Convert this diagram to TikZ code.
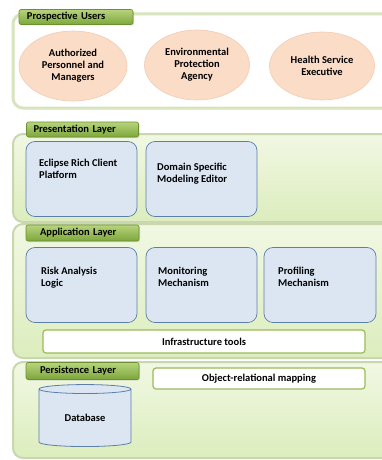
\documentclass[tikz,border=0pt]{standalone}
\usepackage{fontspec}
\setmainfont{Carlito}
\usetikzlibrary{shapes.geometric, shadows, positioning}

\definecolor{usersline}{HTML}{D7E4BD}
\definecolor{layerline}{HTML}{C9D6AE}
\definecolor{layertop}{HTML}{F1F8E3}
\definecolor{layerbot}{HTML}{DCEDBD}
\definecolor{tabtop}{HTML}{B7D47C}
\definecolor{tabbot}{HTML}{7DA63C}
\definecolor{tabline}{HTML}{6B902E}
\definecolor{peach}{HTML}{FBDCC7}
\definecolor{peachline}{HTML}{F2CCB2}
\definecolor{partfill}{HTML}{DCE6F2}
\definecolor{partline}{HTML}{5C7FA8}
\definecolor{stripline}{HTML}{9BBB59}

\begin{document}
\begin{tikzpicture}[x=1pt, y=-1pt,
    panel/.style={rectangle, rounded corners=10, draw=layerline, line width=2,
        top color=layertop, bottom color=layerbot, minimum width=387},
    tab/.style={rectangle, rounded corners=2, draw=tabline, line width=0.6,
        top color=tabtop, bottom color=tabbot, align=left, inner ysep=0pt,
        drop shadow={opacity=0.25, shadow xshift=1pt, shadow yshift=-1pt}},
    person/.style={ellipse, fill=peach, draw=peachline, line width=0.6, align=center},
    part/.style={rectangle, rounded corners=9, fill=partfill, draw=partline, line width=0.7,
        minimum height=75},
    parttext/.style={anchor=north west, align=left},
    strip/.style={rectangle, rounded corners=3, fill=white, draw=stripline, line width=1.2},
    store/.style={cylinder, shape border rotate=90, aspect=0.22, fill=partfill,
        draw=partline, line width=0.8}]
        \tikzstyle{every node}+=[inner sep=0pt, font=\fontsize{10.5}{12}\selectfont\bfseries]
        \clip (0,0) rectangle (382,460);
        \fill [white] (0,0) rectangle (382,460);

        \node [panel, fill=white, top color=white, bottom color=white, draw=usersline, line width=3,
            minimum height=94] (users) at (206.5,61) {};
        \node [tab, text width=98, inner xsep=8, minimum height=15] (userstab) at (76,17) {Prospective Users};
        \node [person, minimum width=108, minimum height=70] (staff) at (73,66) {Authorized\\Personnel and\\Managers};
        \node [person, minimum width=105, minimum height=70] (epa) at (197,65) {Environmental\\Protection\\Agency};
        \node [person, minimum width=105, minimum height=68] (hse) at (322,66) {Health Service\\Executive};

        \node [panel, minimum height=88] (pres) at (206.5,178) {};
        \node [tab, text width=98, inner xsep=7, minimum height=15] (prestab) at (82.5,129.5) {Presentation Layer};
        \node [part, minimum width=111] (rcp) at (81.5,179) {};
        \node [parttext] (rcptext) at (39,159) {Eclipse Rich Client\\Platform};
        \node [part, minimum width=111] (dsm) at (201.5,179) {};
        \node [parttext] (dsmtext) at (157,163) {Domain Specific\\Modeling Editor};

        \node [panel, minimum height=134] (app) at (206.5,291) {};
        \node [tab, text width=85, inner xsep=14, minimum height=16] (apptab) at (82.5,233) {Application Layer};
        \node [part, minimum width=111] (risk) at (81.5,285) {};
        \node [parttext] (risktext) at (41,267) {Risk Analysis\\Logic};
        \node [part, minimum width=111] (mon) at (201.5,285) {};
        \node [parttext] (montext) at (158,267) {Monitoring\\Mechanism};
        \node [part, minimum width=112] (prof) at (320,285) {};
        \node [parttext] (proftext) at (278,267) {Profiling\\Mechanism};
        \node [strip, minimum width=322, minimum height=23] (infra) at (204,341.5) {Infrastructure tools};

        \node [panel, minimum height=96] (pers) at (206.5,410) {};
        \node [tab, text width=85, inner xsep=14, minimum height=17] (perstab) at (82.5,371) {Persistence Layer};
        \node [strip, minimum width=212, minimum height=21] (orm) at (259,378.5) {Object-relational mapping};
        \node [store, minimum width=92, minimum height=62] (db) at (85,418) {Database};
\end{tikzpicture}
\end{document}
